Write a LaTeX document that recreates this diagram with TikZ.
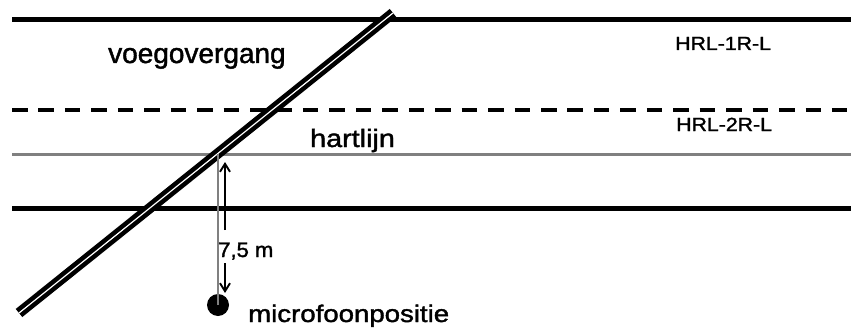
\documentclass[tikz,border=0pt]{standalone}
\usepackage{fontspec}
\setmainfont{Liberation Sans}
\newfontfamily\boldish[FakeBold=1.5]{Liberation Sans}
\usetikzlibrary{arrows.meta}
\begin{document}
\begin{tikzpicture}[x=1pt,y=-1pt,
  lane/.style={line width=5pt},
  dashlane/.style={line width=4.6pt, dash pattern=on 15.5pt off 10.95pt},
  axis/.style={line width=3pt, draw=gray},
  joint/.style={line width=4.6pt, double=white, double distance=1.2pt},
  lbl/.style={inner sep=0pt, anchor=base west, font=\boldish},
  meas/.style={line width=1.9pt, -{Straight Barb[length=8pt,width=10pt,line width=1.9pt]}}
]
\useasboundingbox (0,0) rectangle (851,329);
% lane lines
\coordinate (t1) at (12,20);   \coordinate (t2) at (851,20);
\coordinate (d1) at (12,110);  \coordinate (d2) at (851,110);
\coordinate (g1) at (12,154);  \coordinate (g2) at (851,154);
\coordinate (b1) at (12,208);  \coordinate (b2) at (851,208);
\draw[lane] (t1) -- (t2);
\draw[dashlane] (d1) -- (d2);
\draw[axis] (g1) -- (g2);
\draw[lane] (b1) -- (b2);
% joint
\coordinate (j1) at (19,313);
\coordinate (j2) at (393,13);
\draw[joint] (j1) -- (j2);
% microphone
\coordinate (cross) at (218,154);
\node[circle, fill=black, inner sep=0pt, minimum size=22pt] (mic) at (218,305) {};
\draw[axis, line width=2.5pt] (cross) -- (mic.center);
% measurement arrow
\node[lbl] (lab) at (218,257) {\scalebox{1.05}[1]{\fontsize{21}{24}\selectfont 7,5 m}};
\coordinate (a0) at (225,230);
\coordinate (a1) at (225,162);
\coordinate (b0) at (225,263);
\coordinate (b3) at (225,293);
\draw[meas] (a0) -- (a1);
\draw[meas] (b0) -- (b3);
% labels
\node[lbl] (voeg) at (108,63) {\fontsize{28}{32}\selectfont voegovergang};
\node[lbl] (hart) at (310,147) {\scalebox{1.15}[1]{\fontsize{25}{28}\selectfont hartlijn}};
\node[lbl] (hrl1) at (675,50) {\scalebox{1.12}[1]{\fontsize{19}{22}\selectfont HRL-1R-L}};
\node[lbl] (hrl2) at (676,131) {\scalebox{1.12}[1]{\fontsize{19}{22}\selectfont HRL-2R-L}};
\node[lbl] (micl) at (248,322) {\scalebox{1.15}[1]{\fontsize{24}{27}\selectfont microfoonpositie}};
\end{tikzpicture}
\end{document}
